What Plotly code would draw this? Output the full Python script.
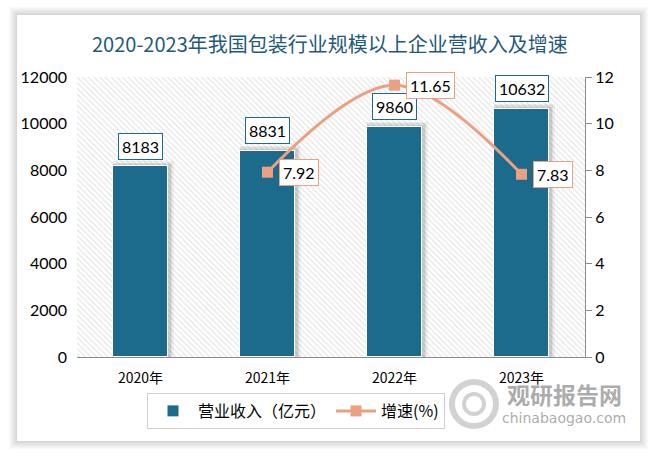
import plotly.graph_objects as go

categories = ["2020年", "2021年", "2022年", "2023年"]
revenue = [8183, 8831, 9860, 10632]
growth_years = ["2021年", "2022年", "2023年"]
growth = [7.92, 11.65, 7.83]
left_ticks = [0, 2000, 4000, 6000, 8000, 10000, 12000]
right_ticks = [0, 2, 4, 6, 8, 10, 12]

BAR = "#1c6b8d"
LINE = "#eaa081"
TITLE = "#1f5a7a"
FONT = "Lato, Noto Sans CJK SC, sans-serif"
CJK = "Noto Sans CJK SC"

# plot area in pixels
L, R, T, B = 77, 585, 77, 357
W, H = 658, 457

def px(x):
    return (x - L) / (R - L)

def py(y):
    return (B - y) / (B - T)

xpos = list(range(len(categories)))
gpos = [categories.index(c) for c in growth_years]

fig = go.Figure()

# hatched plot background
fig.add_trace(go.Bar(
    x=[1.5], y=[left_ticks[-1]], width=[4], marker=dict(
        color="white", line=dict(width=0),
        pattern=dict(shape="\\", fgcolor="#cccccc", bgcolor="white", size=4, solidity=0.3)),
    hoverinfo="skip", showlegend=False))

# bar shadows (soft)
for k, (dx, dh, a) in enumerate([(0.02, 220, 0.05), (0.015, 150, 0.07), (0.01, 90, 0.08)]):
    fig.add_trace(go.Bar(
        x=[p + dx for p in xpos], y=[v + dh for v in revenue], width=0.43 + 2 * dx + 0.01,
        marker=dict(color=f"rgba(0,0,0,{a})", line=dict(width=0)),
        hoverinfo="skip", showlegend=False))

fig.add_trace(go.Bar(
    x=xpos, y=revenue, width=0.43, name="营业收入（亿元）",
    marker=dict(color=BAR, line=dict(color="white", width=1))))

fig.add_trace(go.Scatter(
    x=gpos, y=growth, yaxis="y2", name="增速(%)", mode="lines+markers",
    line=dict(color=LINE, width=3, shape="spline", smoothing=1),
    marker=dict(symbol="square", size=11, color=LINE)))

ann = []
for p, v in zip(xpos, revenue):
    ann.append(dict(x=p, y=v, xref="x", yref="y", text=str(v), showarrow=False,
                    yshift=20, bgcolor="white", bordercolor=BAR, borderwidth=1, borderpad=3,
                    font=dict(family=FONT, size=16, color="black")))
for p, v in zip(gpos, growth):
    ann.append(dict(x=p, y=v, xref="x", yref="y2", text=f"{v:.2f}", showarrow=False,
                    xanchor="left", xshift=11, bgcolor="white", bordercolor=LINE, borderwidth=1,
                    borderpad=3, font=dict(family=FONT, size=16, color="black")))

ann.append(dict(x=px(330), y=py(43), xref="paper", yref="paper", xanchor="center", yanchor="middle",
                text="2020-2023年我国包装行业规模以上企业营收入及增速",
                showarrow=False, font=dict(family=CJK, size=20, color=TITLE)))
# watermark
ann.append(dict(x=px(564), y=py(394), xref="paper", yref="paper", xanchor="center", yanchor="middle",
                text="<b>观研报告网</b>",
                showarrow=False, font=dict(family=CJK, size=23, color="rgba(150,150,150,0.8)")))
ann.append(dict(x=px(564), y=py(418), xref="paper", yref="paper", xanchor="center", yanchor="middle",
                text="chinabaogao.com",
                showarrow=False, font=dict(family="DejaVu Sans", size=14, color="rgba(150,150,150,0.8)")))

shapes = []
# card shadow
for i in range(8, 0, -1):
    shapes.append(dict(type="rect", xref="paper", yref="paper", layer="below",
                       x0=px(17 - i), x1=px(640 + i), y0=py(441 + i), y1=py(15 - i),
                       fillcolor="rgba(0,0,0,0.018)", line=dict(width=0)))
shapes.append(dict(type="rect", xref="paper", yref="paper", layer="below",
                   x0=px(17), x1=px(640), y0=py(441), y1=py(15),
                   fillcolor="white", line=dict(width=0)))
# watermark logo (simple rings)
shapes.append(dict(type="circle", xref="paper", yref="paper", layer="below",
                   x0=px(452), x1=px(496), y0=py(426), y1=py(382),
                   line=dict(color="rgba(180,180,180,0.6)", width=6)))
shapes.append(dict(type="circle", xref="paper", yref="paper", layer="below",
                   x0=px(464), x1=px(484), y0=py(414), y1=py(394),
                   line=dict(color="rgba(180,180,180,0.6)", width=4)))

fig.update_layout(
    width=W, height=H,
    margin=dict(l=L, r=W - R, t=T, b=H - B, autoexpand=False),
    paper_bgcolor="white", plot_bgcolor="rgba(0,0,0,0)",
    barmode="overlay", bargap=0,
    font=dict(family=FONT, size=15, color="black"),
    annotations=ann, shapes=shapes,
    xaxis=dict(range=[-0.5, 3.5], tickmode="array", tickvals=xpos, ticktext=categories,
               showgrid=False, zeroline=False, showline=True, linecolor="#8c8c8c", linewidth=1,
               ticks="", ticklabelstandoff=8, tickfont=dict(family=CJK, size=14, color="black")),
    yaxis=dict(range=[0, 12000], tickmode="array", tickvals=left_ticks,
               ticktext=[str(v) for v in left_ticks], showgrid=False,
               zeroline=False, showline=False, ticks="", ticklabelstandoff=9,
               tickfont=dict(family=FONT, size=16, color="black")),
    yaxis2=dict(range=[0, 12], tickmode="array", tickvals=right_ticks,
                ticktext=[str(v) for v in right_ticks], overlaying="y", side="right",
                showgrid=False, zeroline=False, showline=True, linecolor="#8c8c8c", linewidth=1,
                ticks="outside", ticklen=6, tickcolor="#8c8c8c",
                tickfont=dict(family=FONT, size=16, color="black")),
    legend=dict(orientation="h", x=px(296), xanchor="center", y=py(393), yanchor="top",
                bordercolor="#d0d0d0", borderwidth=1, bgcolor="white", itemwidth=40,
                font=dict(family=CJK, size=16, color="black"), traceorder="normal"),
)

fig.write_html("out.html", post_script="document.body.style.margin='0';",
               config={"displayModeBar": False})
